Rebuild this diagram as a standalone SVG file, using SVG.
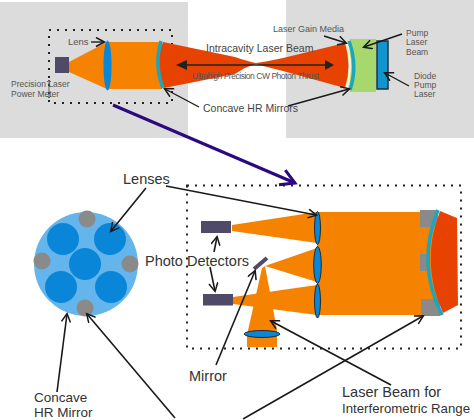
<svg xmlns="http://www.w3.org/2000/svg" width="474" height="420" viewBox="0 0 474 420">
<style>
text{font-family:"Liberation Sans",Arial,sans-serif;fill:#333}
.s{font-size:8.5px;fill:#555}
.m{font-size:10.5px;fill:#444}
.l{font-size:14.5px;fill:#333}
.n{font-size:13.5px;fill:#333}
.o{fill:#f58200}
.r{fill:#e84200}
.g{fill:#8a8a8a}
.d{fill:#4f4a68}
.b{fill:#0a86d9}
.dot{fill:none;stroke:#222;stroke-width:2;stroke-dasharray:2 6}
.c{fill:none;stroke:#1a1a1a;stroke-width:1.6;marker-end:url(#open)}
.c2{fill:none;stroke:#1a1a1a;stroke-width:1.4;marker-end:url(#open)}
.t{fill:none;stroke:#1aa6bf;stroke-width:3.5}
</style>
<defs>
<marker id="open" markerWidth="12" markerHeight="12" refX="9" refY="5" orient="auto" markerUnits="userSpaceOnUse"><path d="M1 0.5L9.5 5L1 9.5" fill="none" stroke="#1a1a1a" stroke-width="1.5"/></marker>
<marker id="purple" markerWidth="22" markerHeight="20" refX="17" refY="10" orient="auto" markerUnits="userSpaceOnUse"><path d="M3 2L17 10L3 18" fill="none" stroke="#2a0a7e" stroke-width="3"/></marker>
</defs>
<rect width="474" height="420" fill="#fff"/>
<g id="backgrounds">
<rect x="0" y="2" width="188" height="136" fill="#dcdcdc"/>
<rect x="286" y="0" width="188" height="138" fill="#dcdcdc"/>
</g>
<g id="top-system">
<rect class="dot" x="49" y="30" width="123" height="73"/>
<rect class="d" x="55" y="57" width="14" height="16"/>
<path class="o" d="M69 62L107 42V89L69 72Z"/>
<rect class="o" x="107" y="42" width="55" height="47"/>
<path class="r" d="M163 42Q154 65 164 88L235 74Q247 66 256 64Q263 66 283 71L345 88Q352 66 345 43L283 58Q265 62 256 63Q247 61 235 57Z"/>
<path class="t" d="M161 41Q154 65 163 88"/>
<ellipse class="b" cx="107.500" cy="65.500" rx="4" ry="25"/>
<rect x="350" y="39" width="26" height="53" fill="#a6d86e"/>
<path d="M346 42Q354 66 346 89" fill="none" stroke="#fff6c8" stroke-width="2"/>
<path class="t" d="M349 41Q358 66 350 90"/>
<rect x="377" y="41" width="11" height="48" fill="#0f96cf" stroke="#1f2f3f" stroke-width="1.500"/>
</g>
<g id="bottom-system">
<rect class="dot" x="187" y="185.500" width="274" height="163"/>
<path class="o" d="M317 212H438V315H317Z"/>
<path class="o" d="M232 225L317 212V243L232 231Z"/>
<path class="o" d="M265 266L317 248V282Z"/>
<path class="o" d="M233 297L317 285V315L233 304Z"/>
<path class="o" d="M262 268L265 266L277 330V347H247V335Z"/>
<rect class="g" x="420" y="210" width="18" height="17"/>
<rect class="g" x="420" y="254" width="10" height="17"/>
<rect class="g" x="421" y="299" width="19" height="17"/>
<path class="r" d="M440 211L457 218L458 305L443 313Q420 263 440 211Z"/>
<path class="t" d="M438 210Q416 263 442 315"/>
<rect class="d" x="201" y="221" width="30" height="12"/>
<rect class="d" x="203" y="294" width="30" height="11.500"/>
<path d="M254 269L267 258" stroke="#4f4a68" stroke-width="4"/>
<ellipse class="b" cx="317.500" cy="228" rx="3" ry="16.500" stroke="#111" stroke-width=".8"/>
<ellipse class="b" cx="317.500" cy="265" rx="3.800" ry="18.500" stroke="#111" stroke-width=".8"/>
<ellipse class="b" cx="317.500" cy="301" rx="3" ry="17" stroke="#111" stroke-width=".8"/>
<ellipse class="b" cx="262" cy="334" rx="18" ry="3.500" stroke="#111" stroke-width=".8"/>
</g>
<g id="mirror-face">
<circle cx="86" cy="264" r="52" fill="#64b5ec"/>
<circle class="b" cx="63" cy="239" r="16"/>
<circle class="b" cx="110" cy="239" r="16"/>
<circle class="b" cx="85" cy="264" r="16"/>
<circle class="b" cx="61" cy="287" r="16"/>
<circle class="b" cx="111" cy="287" r="16"/>
<circle class="g" cx="87" cy="219" r="8.500"/>
<circle class="g" cx="42" cy="261" r="8.500"/>
<circle class="g" cx="130" cy="264" r="8.500"/>
<circle class="g" cx="85" cy="308" r="8.500"/>
</g>
<g id="connectors">
<path d="M187 65H326" stroke="#222" stroke-width="1.500"/>
<path d="M187 60L176 65L187 70Z" fill="#222"/>
<path d="M325 60L334 65L325 70Z" fill="#222"/>
<path class="c2" d="M91 42H104"/>
<path class="c2" d="M199 107L165 89"/>
<path class="c2" d="M288 106L349 89"/>
<path class="c2" d="M324 36L346 43"/>
<path class="c2" d="M402 34L364 47"/>
<path class="c2" d="M409 86L385 73"/>
<path d="M49 80V98M47 82L49 80L51 82M47 96L49 98L51 96" stroke="#444" fill="none" stroke-width=".8"/>
<path d="M113 105L295 183" stroke="#2a0a7e" stroke-width="3" fill="none" marker-end="url(#purple)"/>
<path class="c" d="M146 188L111 231"/>
<path class="c" d="M166 186L316 215"/>
<path class="c" d="M214 252L217 237"/>
<path class="c" d="M210 267L215 291"/>
<path class="c" d="M216 365L255 271"/>
<path class="c" d="M391 385L271 321"/>
<path class="c" d="M243 419L423 316"/>
<path class="c" d="M57 392L67 314"/>
<path class="c" d="M175 418L87 314"/>
</g>
<g id="labels">
<text class="s" x="11" y="87">Precision Laser</text>
<text class="s" x="11" y="97">Power Meter</text>
<text class="s" x="68" y="45" style="font-size:9.500px">Lens</text>
<text class="m" x="206" y="52">Intracavity Laser Beam</text>
<text class="s" x="192" y="79" textLength="127">Ultrahigh Precision CW Photon Thrust</text>
<text class="m" x="203" y="112">Concave HR Mirrors</text>
<text class="s" x="273" y="32" style="font-size:9px">Laser Gain Media</text>
<text class="s" x="406" y="36">Pump</text>
<text class="s" x="406" y="45">Laser</text>
<text class="s" x="406" y="55">Beam</text>
<text class="s" x="414" y="79">Diode</text>
<text class="s" x="414" y="88">Pump</text>
<text class="s" x="414" y="97">Laser</text>
<text class="l" x="123" y="184">Lenses</text>
<text class="l" x="145" y="266">Photo Detectors</text>
<text class="l" x="189" y="381">Mirror</text>
<text class="n" x="34" y="402">Concave</text>
<text class="n" x="34" y="417">HR Mirror</text>
<text class="l" x="342" y="397">Laser Beam for</text>
<text class="n" x="342" y="413" textLength="128" lengthAdjust="spacingAndGlyphs">Interferometric Range</text>
</g>
</svg>
